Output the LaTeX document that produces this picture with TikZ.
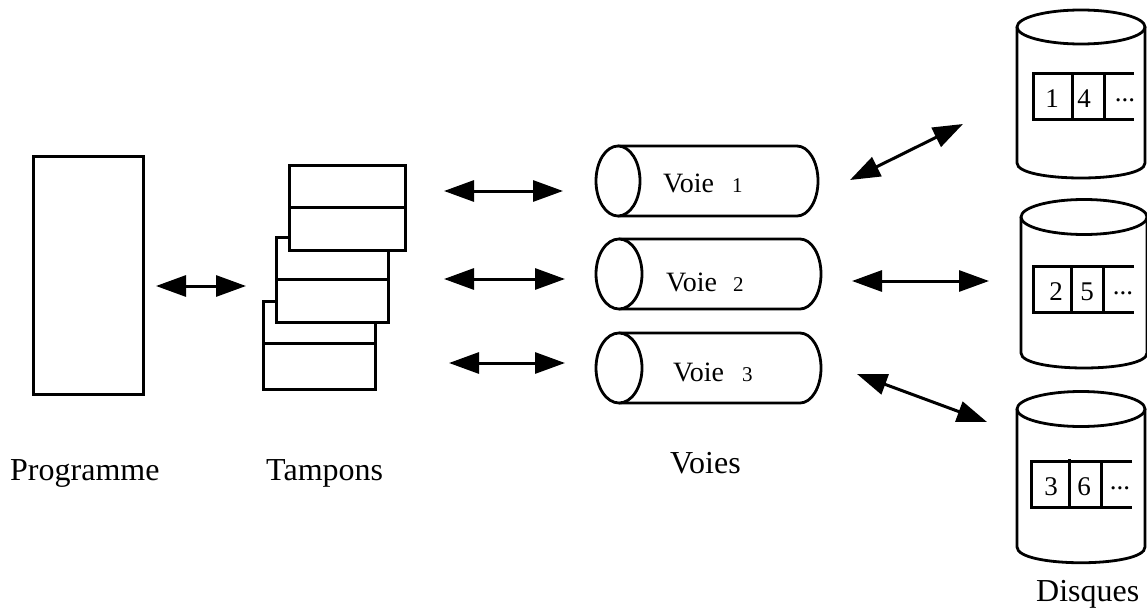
\documentclass[tikz,border=0pt]{standalone}
\usepackage{fontspec}
\setmainfont{Liberation Serif}
\usetikzlibrary{arrows.meta,shapes.geometric}
\tikzset{
  box/.style={draw,line width=2.6pt,inner sep=0pt,fill=white,anchor=north west},
  dbl/.style={line width=3pt,{Triangle[length=30pt,width=21pt]}-{Triangle[length=30pt,width=21pt]}},
  lineshape/.style={line width=2.8pt},
  track/.style={line width=3pt},
  endcap/.style={draw,ellipse,line width=2.8pt,inner sep=0pt,fill=white},
  lab/.style={anchor=base west,inner sep=0pt,font=\fontsize{32}{32}\selectfont},
  voie/.style={anchor=base west,inner sep=0pt,font=\fontsize{28}{28}\selectfont},
  num/.style={anchor=base west,inner sep=0pt,font=\fontsize{21}{21}\selectfont},
  dig/.style={anchor=base,inner sep=0pt,font=\fontsize{27}{27}\selectfont}
}
\newcommand{\rbox}[5]{\node[box,minimum width=#4 pt,minimum height=#5 pt] (#1) at (#2,#3) {};}
\begin{document}
\begin{tikzpicture}[x=1pt,y=-1pt]
\useasboundingbox (0,0) rectangle (1147,607);
% programme
\rbox{prog}{32}{155}{110}{238}
% tampons
\rbox{e}{262}{300}{112}{42}
\rbox{f}{262}{342}{112}{46}
\rbox{c}{275}{236}{112}{42}
\rbox{d}{275}{278}{112}{43}
\rbox{a}{288}{164}{116}{42}
\rbox{b}{288}{206}{116}{43}
% voies
\draw[lineshape] (618,146) -- (797,146) .. controls (808.6,146) and (818,161.7) .. (818,181) .. controls (818,200.3) and (808.6,216) .. (797,216) -- (618,216);
\node[endcap,minimum width=44pt,minimum height=70pt] (p1) at (618,181) {};
\draw[lineshape] (619,239) -- (800,239) .. controls (811.6,239) and (821,254.7) .. (821,274) .. controls (821,293.3) and (811.6,309) .. (800,309) -- (619,309);
\node[endcap,minimum width=46pt,minimum height=70pt] (p2) at (619,274) {};
\draw[lineshape] (619,333) -- (800,333) .. controls (811.6,333) and (821,348.7) .. (821,368) .. controls (821,387.3) and (811.6,403) .. (800,403) -- (619,403);
\node[endcap,minimum width=46pt,minimum height=70pt] (p3) at (619,368) {};
\node[voie] (v1) at (663,192) {Voie};
\node[num]  (n1) at (732,192) {1};
\node[voie] (v2) at (666,291) {Voie};
\node[num]  (n2) at (733,291) {2};
\node[voie] (v3) at (673,381) {Voie};
\node[num]  (n3) at (742,381) {3};
% disques
\draw[lineshape] (1017,27) -- (1017,163) .. controls (1017,183) and (1145,183) .. (1145,163) -- (1145,27);
\node[endcap,minimum width=128pt,minimum height=34pt] (d1) at (1081,27) {};
\draw[lineshape] (1021,217) -- (1021,353) .. controls (1021,373) and (1147,373) .. (1147,353) -- (1147,217);
\node[endcap,minimum width=126pt,minimum height=35pt] (d2) at (1084,217) {};
\draw[lineshape] (1017,409) -- (1017,547) .. controls (1017,568) and (1145,568) .. (1145,547) -- (1145,409);
\node[endcap,minimum width=128pt,minimum height=35pt] (d3) at (1081,409) {};
% pistes
\draw[track] (1134,74) -- (1033,74) -- (1033,121) (1033,119) -- (1134,119) (1072,74) -- (1072,121) (1104,74) -- (1104,119);
\draw[track] (1134,266) -- (1033,266) -- (1033,314) (1033,312) -- (1134,312) (1071,266) -- (1071,314) (1103,266) -- (1103,312);
\draw[track] (1132,461) -- (1031,461) -- (1031,507) -- (1132,507) (1069,459) -- (1069,507) (1101,461) -- (1101,507);
\node[dig] (t1) at (1052,108) {1};
\node[dig] (t4) at (1084,108) {4};
\node[dig] (t7) at (1125,102) {...};
\node[dig] (t2) at (1056,300) {2};
\node[dig] (t5) at (1087,300) {5};
\node[dig] (t8) at (1123,294) {...};
\node[dig] (t3) at (1051,495) {3};
\node[dig] (t6) at (1084,495) {6};
\node[dig] (t9) at (1120,489) {...};
% fleches
\coordinate (a0l) at (156,286); \coordinate (a0r) at (246,286);
\coordinate (a1l) at (444,191); \coordinate (a1r) at (563,191);
\coordinate (a2l) at (444,279); \coordinate (a2r) at (565,279);
\coordinate (a3l) at (449,363); \coordinate (a3r) at (565,363);
\coordinate (b1l) at (850,180); \coordinate (b1r) at (963,124);
\coordinate (b2l) at (852,281); \coordinate (b2r) at (989,281);
\coordinate (b3l) at (857,374); \coordinate (b3r) at (987,422);
\foreach \s/\t in {a0l/a0r,a1l/a1r,a2l/a2r,a3l/a3r,b1l/b1r,b2l/b2r,b3l/b3r}
  \draw[dbl] (\s) -- (\t);
% legendes
\node[lab] (l1) at (10,480) {Programme};
\node[lab] (l2) at (266,480) {Tampons};
\node[lab] (l3) at (670,473) {Voies};
\node[lab] (l4) at (1036,601) {Disques};
\end{tikzpicture}
\end{document}
